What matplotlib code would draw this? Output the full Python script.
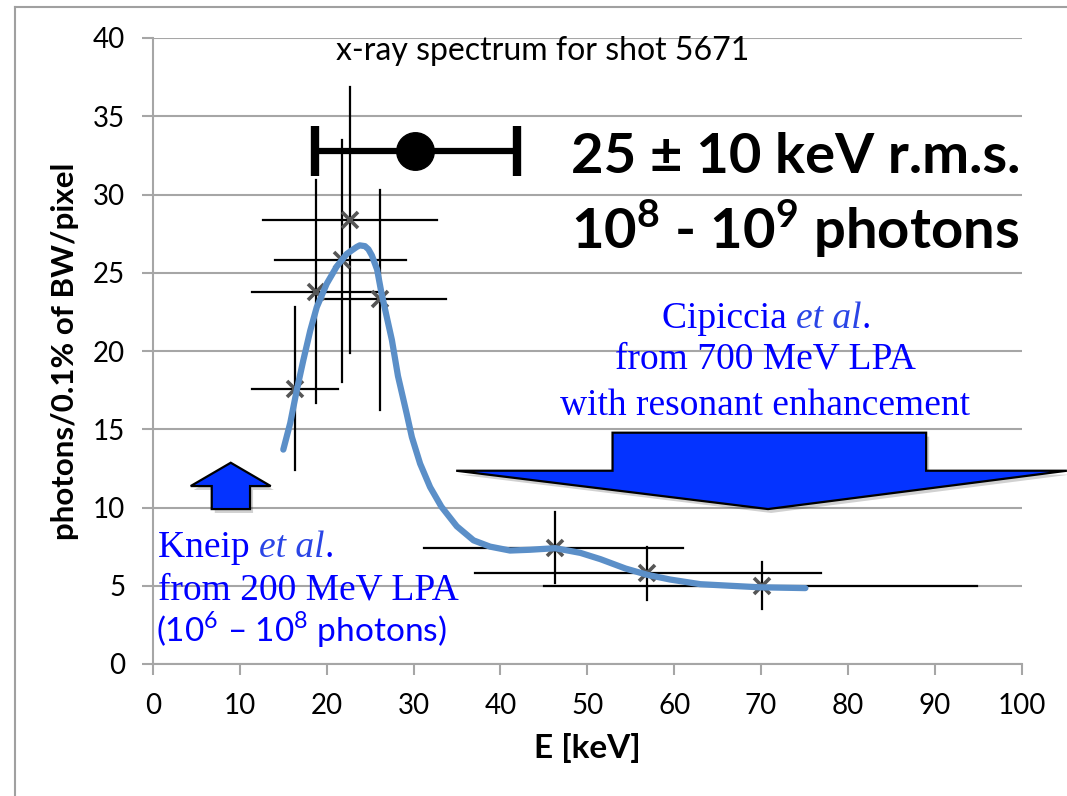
import matplotlib
matplotlib.use("Agg")
import matplotlib.pyplot as plt
from matplotlib.patches import Polygon
from matplotlib.lines import Line2D

plt.rcParams['font.family'] = ['Lato', 'DejaVu Sans']
plt.rcParams['mathtext.fontset'] = 'custom'
plt.rcParams['mathtext.rm'] = 'Lato'
plt.rcParams['mathtext.bf'] = 'Lato:bold'

# measured spectrum points with asymmetric error ranges
energy = [16.3, 18.8, 21.7, 22.7, 26.1, 46.3, 56.9, 70.1]
photons = [17.6, 23.8, 25.8, 28.4, 23.3, 7.4, 5.8, 5.0]
energy_lo = [11.4, 11.4, 14.1, 12.7, 19.6, 31.2, 37.1, 45.0]
energy_hi = [21.3, 26.1, 29.1, 32.7, 33.7, 61.0, 76.9, 94.9]
photons_lo = [12.4, 16.7, 18.0, 19.9, 16.2, 5.2, 4.1, 3.5]
photons_hi = [22.8, 30.9, 33.5, 36.9, 30.3, 9.7, 7.5, 6.5]

# fitted spectrum curve
fit_e = [15.0, 15.8, 16.55, 17.3, 18.1, 18.85, 20.0, 21.15, 22.3, 23.45,
         23.8, 24.4, 24.8, 25.2, 25.8, 26.3, 26.9, 27.5, 28.2, 29.2, 29.8,
         30.75, 31.9, 33.2, 34.97, 36.9, 38.8, 41.1, 43.4, 46.3, 49.2, 51.5,
         54.4, 56.9, 59.5, 63.0, 66.4, 69.9, 75.1]
fit_p = [13.7, 15.4, 17.5, 19.4, 21.3, 22.8, 24.3, 25.4, 26.2, 26.65,
         26.75, 26.7, 26.5, 26.1, 25.2, 23.7, 22.2, 20.7, 18.4, 16.0, 14.5,
         12.8, 11.3, 10.05, 8.8, 7.9, 7.5, 7.25, 7.3, 7.4, 7.1, 6.7,
         6.1, 5.7, 5.4, 5.1, 5.0, 4.9, 4.85]

# mean energy with r.m.s. width
mean_e = 30.2
mean_p = 32.8
mean_lo = 18.7
mean_hi = 41.9

# other sources (arrow outlines)
kneip_arrow_x = [8.95, 13.55, 11.17, 11.17, 6.76, 6.76, 4.34]
kneip_arrow_y = [12.86, 11.37, 11.37, 9.9, 9.9, 11.37, 11.37]
cip_arrow_x = [52.9, 89.0, 89.0, 105.2, 70.8, 34.9, 52.9]
cip_arrow_y = [14.78, 14.78, 12.35, 12.35, 9.9, 12.35, 12.35]

xticks = list(range(0, 101, 10))
yticks = list(range(0, 41, 5))

W, H = 1067, 796
fig = plt.figure(figsize=(W / 100, H / 100), dpi=100)
ax = fig.add_axes([153 / W, 1 - 664 / H, (1021.7 - 153) / W, (664 - 38) / H])

ax.set_xlim(0, 100)
ax.set_ylim(0, 40)
ax.set_xticks(xticks)
ax.set_yticks(yticks)
ax.yaxis.grid(True, color='#a6a6a6', linewidth=1.5)
ax.set_axisbelow(True)
for s in ['top', 'right']:
    ax.spines[s].set_visible(False)
for s in ['left', 'bottom']:
    ax.spines[s].set_color('#a6a6a6')
    ax.spines[s].set_linewidth(1.5)
ax.tick_params(axis='both', color='#a6a6a6', width=1.5, length=8,
               labelsize=20, direction='out')
ax.tick_params(axis='x', pad=13)
ax.tick_params(axis='y', pad=12)

ax.set_xlabel('E [keV]', fontsize=24, fontweight='bold', labelpad=10)
ax.set_ylabel('photons/0.1% of BW/pixel', fontsize=22.5, fontweight='bold',
              labelpad=10)

# error bars
for x, y, xl, xh, yl, yh in zip(energy, photons, energy_lo, energy_hi,
                                photons_lo, photons_hi):
    ax.plot([xl, xh], [y, y], color='black', lw=1.6, zorder=3)
    ax.plot([x, x], [yl, yh], color='black', lw=1.6, zorder=3)
ax.plot(energy, photons, linestyle='none', marker='x', markersize=11,
        markeredgewidth=2.6, color='#555555', zorder=4)

ax.plot(fit_e, fit_p, color='#5b8fc8', lw=4.5, solid_capstyle='round',
        solid_joinstyle='round', zorder=5)

# mean energy marker with rms bar
ax.errorbar([mean_e], [mean_p],
            xerr=[[mean_e - mean_lo], [mean_hi - mean_e]],
            fmt='o', color='black', markersize=27, elinewidth=4.5,
            capsize=18, capthick=6, zorder=6)

# arrows indicating other sources
for xs, ys in [(kneip_arrow_x, kneip_arrow_y), (cip_arrow_x, cip_arrow_y)]:
    pts = list(zip(xs, ys))
    shadow = Polygon([(px + 0.35, py - 0.25) for px, py in pts], closed=True,
                     facecolor='#000000', alpha=0.18, edgecolor='none',
                     clip_on=False, zorder=6)
    ax.add_patch(shadow)
    ax.add_patch(Polygon(pts, closed=True, facecolor='#0433ff',
                         edgecolor='black', linewidth=1.6, clip_on=False,
                         zorder=7))

ax.text(44.8, 38.6, 'x-ray spectrum for shot 5671', fontsize=23,
        ha='center', va='baseline', color='black')

ax.text(48.1, 31.4, '25 ± 10 keV r.m.s.', fontsize=40.5, fontweight='bold',
        ha='left', va='baseline')
ax.text(48.1, 26.6, r'10$^{\mathbf{8}}$ - 10$^{\mathbf{9}}$ photons',
        fontsize=40.5, fontweight='bold', ha='left', va='baseline')

blue = '#0000ff'
blue_it = '#2a45e6'
serif = 'Liberation Serif'
fs_serif = 27


def et_al_line(x, y, name):
    """Write '<name> et al.' with the 'et al' part in italics."""
    t1 = ax.text(x, y, name + ' ', fontsize=fs_serif, family=serif,
                 color=blue, ha='left', va='baseline')
    t2 = ax.annotate('et al', xy=(1, y), xycoords=(t1, 'data'),
                     fontsize=fs_serif, family=serif, style='italic',
                     color=blue_it, ha='left', va='baseline')
    ax.annotate('.', xy=(1, y), xycoords=(t2, 'data'), fontsize=fs_serif,
                family=serif, color=blue, ha='left', va='baseline')


# Cipiccia annotation
et_al_line(58.6, 21.5, 'Cipiccia')
ax.text(70.5, 18.85, 'from 700 MeV LPA', fontsize=fs_serif, family=serif,
        color=blue, ha='center', va='baseline')
ax.text(70.5, 15.9, 'with resonant enhancement', fontsize=fs_serif,
        family=serif, color=blue, ha='center', va='baseline')

# Kneip annotation
et_al_line(0.55, 6.84, 'Kneip')
ax.text(0.55, 4.09, 'from 200 MeV LPA', fontsize=fs_serif, family=serif,
        color=blue, ha='left', va='baseline')
ax.text(0.3, 1.4, r'(10$^{6}$ – 10$^{8}$ photons)', fontsize=24,
        color=blue, ha='left', va='baseline')

# outer frame
fig.add_artist(Line2D([15 / W, 15 / W], [0, 1 - 7 / H], color='#a0a0a0',
                      lw=1.5, transform=fig.transFigure))
fig.add_artist(Line2D([15 / W, 1], [1 - 7 / H, 1 - 7 / H], color='#a0a0a0',
                      lw=1.5, transform=fig.transFigure))

fig.savefig('out.png', dpi=100)
